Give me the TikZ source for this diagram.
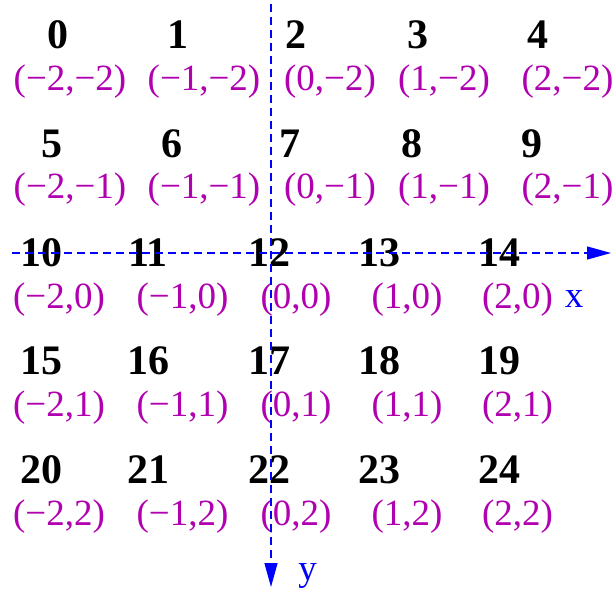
\documentclass[tikz,border=0pt]{standalone}
\usepackage{fontspec}
\setmainfont{Liberation Serif}
\usetikzlibrary{arrows.meta}
\definecolor{coordpurple}{HTML}{B000B0}
\definecolor{axisblue}{HTML}{0000FF}
\begin{document}
\begin{tikzpicture}[x=1pt,y=-1pt,
  num/.style={anchor=base,inner sep=0pt,font=\fontsize{42}{46}\selectfont\bfseries},
  crd/.style={anchor=base,inner sep=0pt,text=coordpurple,font=\fontsize{37}{40}\selectfont},
  axisline/.style={color=axisblue,line width=1.2pt,dash pattern=on 8pt off 5pt,-{Triangle[length=24pt,width=13pt]}},
  axlabel/.style={anchor=base,inner sep=0pt,text=axisblue,font=\fontsize{37}{40}\selectfont}]
\useasboundingbox (0,0) rectangle (614,590);
% row 0
\node[num] (n0) at (58,48.5) {0};
\node[num] (n1) at (178,48.5) {1};
\node[num] (n2) at (296,48.5) {2};
\node[num] (n3) at (418,48.5) {3};
\node[num] (n4) at (538,48.5) {4};
\node[crd] (c0) at (70,90) {(−2,−2)};
\node[crd] (c1) at (204,90) {(−1,−2)};
\node[crd] (c2) at (330,90) {(0,−2)};
\node[crd] (c3) at (444,90) {(1,−2)};
\node[crd] (c4) at (567.5,90) {(2,−2)};
% row 1
\node[num] (n5) at (52,157.25) {5};
\node[num] (n6) at (172,157.25) {6};
\node[num] (n7) at (290,157.25) {7};
\node[num] (n8) at (412,157.25) {8};
\node[num] (n9) at (532,157.25) {9};
\node[crd] (c5) at (70,198.75) {(−2,−1)};
\node[crd] (c6) at (204,198.75) {(−1,−1)};
\node[crd] (c7) at (330,198.75) {(0,−1)};
\node[crd] (c8) at (444,198.75) {(1,−1)};
\node[crd] (c9) at (567.5,198.75) {(2,−1)};
% row 2
\node[num] (n10) at (41,266) {10};
\node[num] (n11) at (148,266) {11};
\node[num] (n12) at (269,266) {12};
\node[num] (n13) at (379,266) {13};
\node[num] (n14) at (499,266) {14};
\node[crd] (c10) at (59,308) {(−2,0)};
\node[crd] (c11) at (182.5,308) {(−1,0)};
\node[crd] (c12) at (296,308) {(0,0)};
\node[crd] (c13) at (407,308) {(1,0)};
\node[crd] (c14) at (517.5,308) {(2,0)};
% row 3
\node[num] (n15) at (41,374.75) {15};
\node[num] (n16) at (148,374.75) {16};
\node[num] (n17) at (269,374.75) {17};
\node[num] (n18) at (379,374.75) {18};
\node[num] (n19) at (499,374.75) {19};
\node[crd] (c15) at (59,416.5) {(−2,1)};
\node[crd] (c16) at (182.5,416.5) {(−1,1)};
\node[crd] (c17) at (296,416.5) {(0,1)};
\node[crd] (c18) at (407,416.5) {(1,1)};
\node[crd] (c19) at (517.5,416.5) {(2,1)};
% row 4
\node[num] (n20) at (41,483.5) {20};
\node[num] (n21) at (148,483.5) {21};
\node[num] (n22) at (269,483.5) {22};
\node[num] (n23) at (379,483.5) {23};
\node[num] (n24) at (499,483.5) {24};
\node[crd] (c20) at (59,525) {(−2,2)};
\node[crd] (c21) at (182.5,525) {(−1,2)};
\node[crd] (c22) at (296,525) {(0,2)};
\node[crd] (c23) at (407,525) {(1,2)};
\node[crd] (c24) at (517.5,525) {(2,2)};
% axes
\coordinate (xstart) at (12,253);
\coordinate (xend) at (611,253);
\coordinate (ystart) at (271,4);
\coordinate (yend) at (271,587);
\draw[axisline] (xstart) -- (xend);
\draw[axisline] (ystart) -- (yend);
\node[axlabel] (xlab) at (574,307) {x};
\node[axlabel] (ylab) at (307.5,580) {y};
\end{tikzpicture}
\end{document}
